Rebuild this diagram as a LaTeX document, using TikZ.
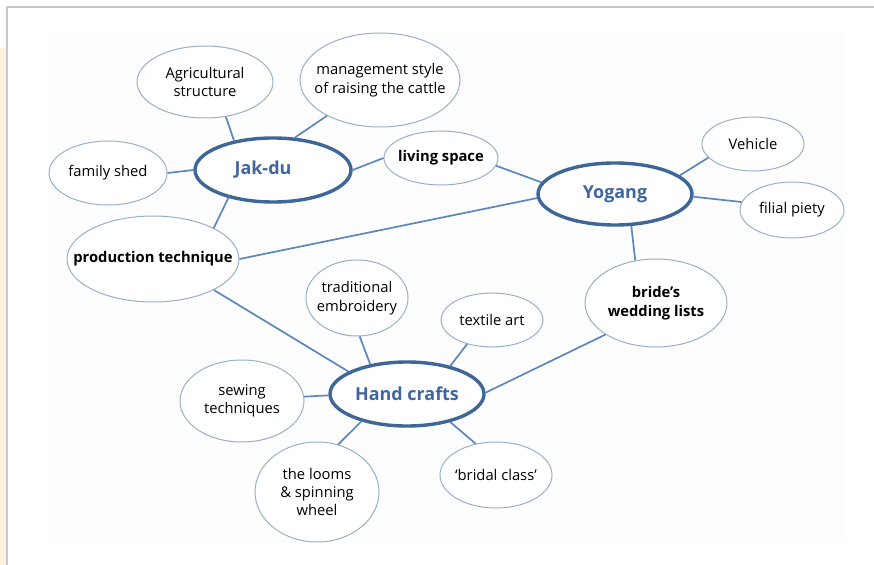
\documentclass[tikz,border=0pt]{standalone}
\usepackage{fontspec}
\setmainfont{Open Sans}
\usetikzlibrary{shapes.geometric}
\definecolor{ebord}{HTML}{9AAFCB}
\definecolor{hubbord}{HTML}{3E6696}
\definecolor{conn}{HTML}{5B87BD}
\definecolor{hubtxt}{HTML}{3F66A0}
\definecolor{beige}{HTML}{FEF1DA}
\definecolor{framec}{HTML}{C8C8C8}
\definecolor{faint}{HTML}{FDFDFD}
\tikzset{
 bub/.style={ellipse, draw=ebord, line width=1bp, fill=white, inner sep=0pt},
 hub/.style={ellipse, draw=hubbord, line width=3.4bp, fill=white, inner sep=0pt},
 txt/.style={align=center, font=\fontsize{14.8}{18.5}\selectfont, text=black, inner sep=0pt},
 btxt/.style={align=center, font=\fontsize{14.8}{18.5}\selectfont\bfseries, text=black, inner sep=0pt},
 htxt/.style={align=center, font=\fontsize{18}{20}\selectfont\bfseries, text=hubtxt, inner sep=0pt},
 link/.style={draw=conn, line width=1.7bp},
}
\begin{document}
\begin{tikzpicture}[x=1bp, y=-1bp]
\useasboundingbox (0,0) rectangle (874,565);
% page decorations
\fill[white] (0,0) rectangle (874,565);
\fill[beige] (0,48) rectangle (7,565);
\fill[faint] (49,33) rectangle (843,542);
\draw[framec, line width=2bp] (7,565) -- (7,7) -- (874,7);

% bubbles
\node[bub, minimum width=136bp, minimum height=72bp] (agri) at (205,82) {};
\node[bub, minimum width=160bp, minimum height=94bp] (mgmt) at (380,80) {};
\node[bub, minimum width=118bp, minimum height=64bp] (family) at (108,173) {};
\node[hub, minimum width=156bp, minimum height=64bp] (jakdu) at (273,170) {};
\node[bub, minimum width=114bp, minimum height=54bp] (living) at (441,158) {};
\node[hub, minimum width=154bp, minimum height=62bp] (yogang) at (615,194) {};
\node[bub, minimum width=102bp, minimum height=54bp] (vehicle) at (753,144) {};
\node[bub, minimum width=104bp, minimum height=56bp] (filial) at (792,210) {};
\node[bub, minimum width=172bp, minimum height=86bp] (pt) at (153,259) {};
\node[bub, minimum width=102bp, minimum height=76bp] (trad) at (357,298) {};
\node[bub, minimum width=102bp, minimum height=54bp] (textile) at (492,320) {};
\node[bub, minimum width=142bp, minimum height=88bp] (bride) at (656,303) {};
\node[bub, minimum width=124bp, minimum height=82bp] (sewing) at (242,401) {};
\node[hub, minimum width=154bp, minimum height=64bp] (hc) at (407,394) {};
\node[bub, minimum width=124bp, minimum height=100bp] (looms) at (317,492) {};
\node[bub, minimum width=112bp, minimum height=66bp] (bridal) at (496,475) {};

% texts
\node[txt] (agri-t) at (agri) {Agricultural\\structure};
\node[txt] (mgmt-t) at (mgmt) {management style\\of raising the cattle};
\node[txt] (family-t) at (family) {family shed};
\node[htxt] (jakdu-t) at ([xshift=-10bp]jakdu.center) {Jak-du};
\node[btxt] (living-t) at (living) {living space};
\node[htxt] (yogang-t) at (yogang) {Yogang};
\node[txt] (vehicle-t) at (vehicle) {Vehicle};
\node[txt] (filial-t) at (filial) {filial piety};
\node[btxt] (pt-t) at (pt) {production technique};
\node[txt] (trad-t) at (trad) {traditional\\embroidery};
\node[txt] (textile-t) at (textile) {textile art};
\node[btxt] (bride-t) at (bride) {bride’s\\wedding lists};
\node[txt] (sewing-t) at (sewing) {sewing\\techniques};
\node[htxt] (hc-t) at (hc) {Hand crafts};
\node[txt] (looms-t) at (looms) {the looms\\\& spinning\\wheel};
\node[txt] (bridal-t) at (bridal) {‘bridal class’};

% connectors
\draw[link] (agri.-59) -- (jakdu.143);
\draw[link] (mgmt.214) -- (jakdu.56);
\draw[link] (family.east) -- (jakdu.west);
\draw[link] (jakdu.east) -- (living.west);
\draw[link] (living.-8) -- (yogang.171);
\draw[link] (pt.east) -- (yogang.183);
\draw[link] (jakdu.212) -- (pt.27);
\draw[link] (yogang.16) -- (vehicle.197);
\draw[link] (yogang.-2) -- (filial.171);
\draw[link] (yogang.-63) -- (bride.116);
\draw[link] (pt.-27) -- (hc.159);
\draw[link] (trad.-86) -- (hc.141);
\draw[link] (textile.224) -- (hc.33);
\draw[link] (bride.212) -- (hc.1);
\draw[link] (sewing.4) -- (hc.181);
\draw[link] (looms.66) -- (hc.211);
\draw[link] (bridal.123) -- (hc.-33);
\end{tikzpicture}
\end{document}
